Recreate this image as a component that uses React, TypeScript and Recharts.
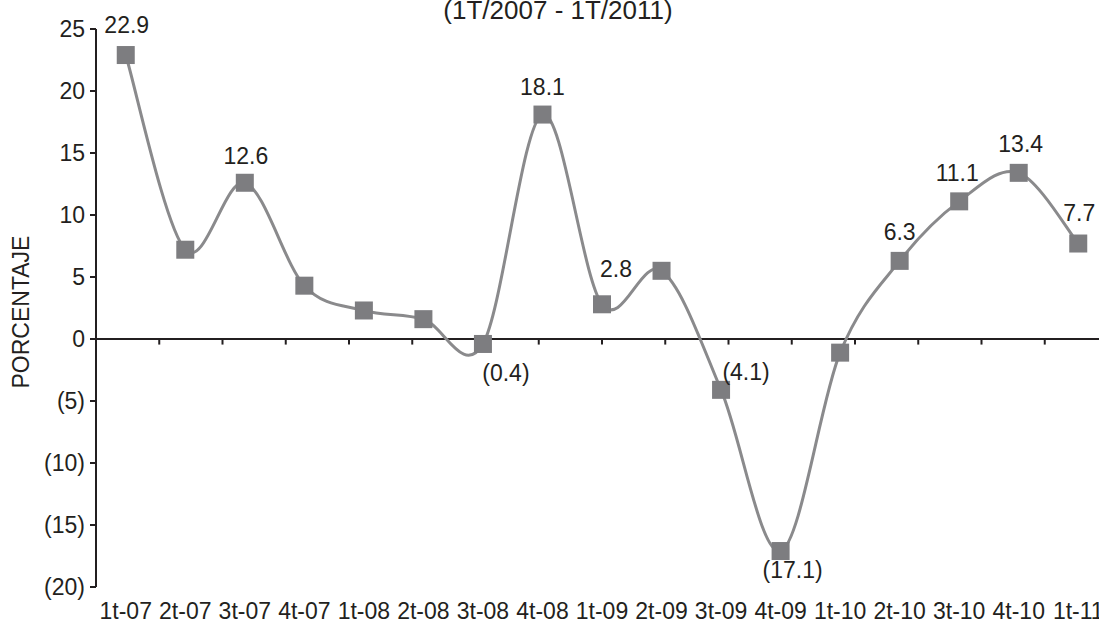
import {
  LabelList,
  Line,
  LineChart,
  ReferenceLine,
  XAxis,
  YAxis,
} from "recharts"

const QUARTERS = [
  "1t-07", "2t-07", "3t-07", "4t-07",
  "1t-08", "2t-08", "3t-08", "4t-08",
  "1t-09", "2t-09", "3t-09", "4t-09",
  "1t-10", "2t-10", "3t-10", "4t-10",
  "1t-11",
]

const VALUES = [
  22.9, 7.2, 12.6, 4.3,
  2.3, 1.6, -0.4, 18.1,
  2.8, 5.5, -4.1, -17.1,
  -1.1, 6.3, 11.1, 13.4,
  7.7,
]

// which points carry a data label in the original
const LABELED = [
  true, false, true, false,
  false, false, true, true,
  true, false, true, true,
  false, true, true, true,
  true,
]

const Y_TICKS = [-20, -15, -10, -5, 0, 5, 10, 15, 20, 25]

const TITLE = "(1T/2007 - 1T/2011)"
const Y_TITLE = "PORCENTAJE"

// label placement relative to the marker centre (px)
const LABEL_OFFSET: [number, number][] = [
  [1, -30], [0, -28], [1, -27], [0, -28],
  [0, -28], [0, -28], [23, 29], [0, -28],
  [14, -35], [0, -28], [25, -18], [12, 19],
  [0, -28], [0, -29], [-2, -28], [2, -29],
  [1, -31],
]

const data = QUARTERS.map((q, i) => ({ q, v: VALUES[i] }))
const BOUNDARIES = QUARTERS.slice(1).map((_, i) => i + 1)

const FONT = "'Liberation Sans', Arial, sans-serif"
const INK = "#231f20"
const LINE = "#8a8a8c"
const MARK = "#7d7d80"

const fmt = (v: number) => (v < 0 ? `(${Math.abs(v)})` : String(v))

// Excel-like smoothing: uniform Catmull-Rom as cubic beziers
function excelSmooth(context: any) {
  let pts: [number, number][] = []
  return {
    areaStart() {},
    areaEnd() {},
    lineStart() {
      pts = []
    },
    point(x: number, y: number) {
      pts.push([+x, +y])
    },
    lineEnd() {
      const n = pts.length
      if (!n) return
      context.moveTo(pts[0][0], pts[0][1])
      for (let i = 0; i < n - 1; i++) {
        const p0 = pts[Math.max(i - 1, 0)]
        const p1 = pts[i]
        const p2 = pts[i + 1]
        const p3 = pts[Math.min(i + 2, n - 1)]
        context.bezierCurveTo(
          p1[0] + (p2[0] - p0[0]) / 6,
          p1[1] + (p2[1] - p0[1]) / 6,
          p2[0] - (p3[0] - p1[0]) / 6,
          p2[1] - (p3[1] - p1[1]) / 6,
          p2[0],
          p2[1],
        )
      }
    },
  }
}

function SquareDot(props: any) {
  const { cx, cy, index } = props
  if (cx == null || cy == null) return null
  return <rect key={`d-${index}`} x={cx - 9} y={cy - 9} width={18} height={18} fill={MARK} />
}

function PointLabel(props: any) {
  const { x, y, value, index } = props
  if (!LABELED[index]) return null
  const [dx, dy] = LABEL_OFFSET[index]
  return (
    <text
      x={x + dx}
      y={y + dy}
      textAnchor="middle"
      dominantBaseline="central"
      fontFamily={FONT}
      fontSize={23}
      fill={INK}
    >
      {fmt(value)}
    </text>
  )
}

export default function App() {
  return (
    <div
      style={{
        position: "absolute",
        left: 0,
        top: 0,
        width: 1099,
        height: 625,
        overflow: "hidden",
        background: "#fff",
      }}
    >
      <svg
        width={1099}
        height={625}
        style={{ position: "absolute", left: 0, top: 0, pointerEvents: "none" }}
      >
        <text x={558} y={19} textAnchor="middle" fontFamily={FONT} fontSize={26} fill={INK}>
          {TITLE}
        </text>
        <text
          transform="translate(29 312) rotate(-90)"
          textAnchor="middle"
          fontFamily={FONT}
          fontSize={23}
          fill={INK}
        >
          {Y_TITLE}
        </text>
      </svg>
      <div style={{ position: "absolute", left: 0, top: 0 }}>
        <LineChart
          width={1108}
          height={625}
          data={data}
          margin={{ top: 29, right: 0, bottom: 0, left: 0 }}
        >
          <XAxis
            dataKey="q"
            padding={{ left: 29.75, right: 29.75 }}
            axisLine={false}
            tickLine={false}
            tickSize={0}
            tickMargin={16}
            height={38}
            interval={0}
            tick={{ fontFamily: FONT, fontSize: 23, fill: INK }}
          />
          <XAxis xAxisId="b" type="number" domain={[0, 17]} hide />
          <YAxis
            domain={[-20, 25]}
            ticks={Y_TICKS}
            interval={0}
            width={96}
            tickFormatter={fmt}
            axisLine={{ stroke: INK, strokeWidth: 2 }}
            tickLine={{ stroke: INK, strokeWidth: 2 }}
            tickSize={6}
            tickMargin={5}
            tick={{ fontFamily: FONT, fontSize: 23, fill: INK }}
          />
          <ReferenceLine y={0} stroke={INK} strokeWidth={2} />
          {BOUNDARIES.map((b) => (
            <ReferenceLine
              key={b}
              xAxisId="b"
              segment={[
                { x: b, y: 0 },
                { x: b, y: -0.45 },
              ]}
              stroke={INK}
              strokeWidth={2}
            />
          ))}
          <Line
            dataKey="v"
            type={excelSmooth as any}
            stroke={LINE}
            strokeWidth={3}
            dot={<SquareDot />}
            activeDot={false}
            isAnimationActive={false}
          >
            <LabelList dataKey="v" content={<PointLabel />} />
          </Line>
        </LineChart>
      </div>
    </div>
  )
}
